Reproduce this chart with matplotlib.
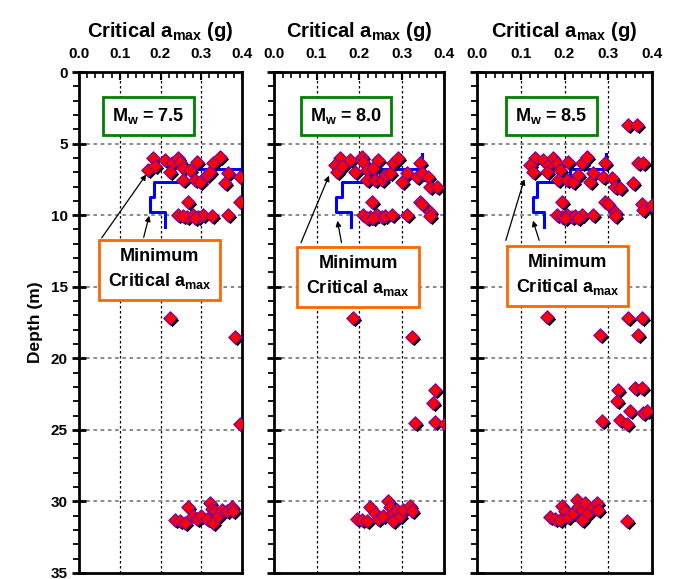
import numpy as np
import matplotlib
matplotlib.use("Agg")
import matplotlib.pyplot as plt
from matplotlib.transforms import offset_copy

plt.rcParams['font.family'] = ['Liberation Sans', 'DejaVu Sans']
plt.rcParams['font.weight'] = 'bold'
plt.rcParams['mathtext.fontset'] = 'custom'
plt.rcParams['mathtext.rm'] = 'Liberation Sans:bold'
plt.rcParams['mathtext.bf'] = 'Liberation Sans:bold'
plt.rcParams['mathtext.default'] = 'bf'

# ---- data: critical amax (g) vs depth (m) ----
a75 = [0.182, 0.169, 0.187, 0.211, 0.228, 0.243, 0.248, 0.223, 0.255, 0.272, 0.290,
       0.255, 0.285, 0.297, 0.314, 0.321, 0.329, 0.346, 0.358, 0.366, 0.395,
       0.267, 0.395,
       0.243, 0.265, 0.280, 0.292, 0.304, 0.326, 0.366, 0.255, 0.285,
       0.223, 0.383, 0.395,
       0.236, 0.248, 0.260, 0.267, 0.280, 0.290, 0.300, 0.314, 0.321, 0.326,
       0.329, 0.334, 0.341, 0.350, 0.363, 0.375, 0.378]
d75 = [6.0, 6.85, 6.6, 6.15, 6.36, 6.0, 6.3, 7.0, 6.7, 6.85, 6.3,
       7.55, 7.55, 7.7, 7.2, 7.0, 6.36, 5.94, 7.76, 7.06, 7.34,
       9.08, 9.08,
       10.0, 10.1, 10.0, 10.15, 10.0, 10.05, 10.0, 10.05, 10.2,
       17.2, 18.5, 24.6,
       31.3, 31.4, 31.5, 30.4, 31.0, 31.2, 31.0, 31.2, 30.1, 30.5,
       31.5, 30.7, 31.0, 30.6, 30.7, 30.4, 30.7]

a80 = [0.155, 0.144, 0.148, 0.160, 0.179, 0.190, 0.207, 0.209, 0.219, 0.233, 0.245,
       0.219, 0.238, 0.254, 0.261, 0.273, 0.280, 0.292, 0.301, 0.313, 0.336,
       0.344, 0.348, 0.367, 0.383, 0.362,
       0.231, 0.344, 0.348, 0.367,
       0.209, 0.226, 0.242, 0.254, 0.261, 0.278, 0.313, 0.367, 0.218, 0.234,
       0.186, 0.325, 0.379, 0.374, 0.332, 0.379, 0.402,
       0.195, 0.207, 0.219, 0.226, 0.238, 0.245, 0.256, 0.268, 0.273, 0.280,
       0.280, 0.289, 0.296, 0.304, 0.320, 0.325]
d80 = [6.0, 6.5, 7.0, 6.6, 6.15, 7.0, 5.94, 6.3, 6.85, 6.7, 6.15,
       7.55, 7.55, 7.55, 7.2, 7.06, 6.36, 6.0, 7.7, 7.06, 7.34,
       6.36, 7.06, 8.0, 8.0, 7.34,
       9.08, 9.08, 9.2, 9.8,
       10.0, 10.1, 10.0, 10.15, 10.05, 10.0, 10.0, 10.05, 10.2, 10.2,
       17.2, 18.5, 22.2, 23.1, 24.5, 24.45, 24.6,
       31.2, 31.3, 31.4, 30.4, 30.8, 31.2, 31.0, 30.0, 30.4, 30.8,
       31.4, 30.6, 31.0, 30.6, 30.3, 30.7]

a85 = [0.133, 0.121, 0.128, 0.151, 0.162, 0.160, 0.174, 0.183, 0.190, 0.208,
       0.185, 0.206, 0.219, 0.231, 0.240, 0.251, 0.258, 0.265, 0.288, 0.293,
       0.309, 0.315, 0.327, 0.357, 0.368, 0.379,
       0.194, 0.293, 0.300, 0.315, 0.377, 0.400, 0.379,
       0.345, 0.366,
       0.183, 0.194, 0.206, 0.217, 0.224, 0.240, 0.265, 0.315, 0.200, 0.230,
       0.160, 0.345, 0.377, 0.281, 0.368,
       0.322, 0.361, 0.377, 0.320, 0.350, 0.379, 0.389, 0.286, 0.327, 0.343,
       0.167, 0.178, 0.190, 0.194, 0.201, 0.208, 0.219, 0.229, 0.231, 0.240,
       0.240, 0.247, 0.254, 0.265, 0.274, 0.276, 0.343]
d85 = [6.0, 6.5, 7.0, 6.15, 6.5, 7.0, 6.0, 6.36, 6.85, 6.3,
       7.55, 7.55, 7.7, 7.2, 6.36, 5.94, 7.7, 7.06, 7.34, 6.36,
       7.4, 8.0, 8.1, 7.76, 6.36, 6.36,
       9.08, 9.08, 9.2, 9.8, 9.2, 9.3, 9.65,
       3.7, 3.7,
       10.0, 10.1, 10.0, 10.15, 10.05, 10.0, 10.0, 10.05, 10.2, 10.2,
       17.1, 17.2, 17.2, 18.4, 18.4,
       22.2, 22.1, 22.1, 23.0, 23.7, 23.8, 23.7, 24.4, 24.3, 24.6,
       31.1, 31.2, 31.3, 30.3, 30.7, 31.1, 30.8, 29.9, 30.4, 30.6,
       31.3, 30.1, 30.8, 30.4, 30.1, 30.6, 31.4]

# minimum critical amax envelopes (step lines)
env75_a = [0.400, 0.400, 0.280, 0.280, 0.185, 0.185, 0.174, 0.174, 0.212, 0.212]
env75_d = [5.70, 6.75, 6.75, 7.70, 7.70, 8.75, 8.75, 9.80, 9.80, 10.85]
env80_a = [0.348, 0.348, 0.250, 0.250, 0.160, 0.160, 0.146, 0.146, 0.181, 0.181]
env80_d = [5.70, 6.75, 6.75, 7.70, 7.70, 8.75, 8.75, 9.80, 9.80, 10.80]
env85_a = [0.295, 0.295, 0.213, 0.213, 0.137, 0.137, 0.128, 0.128, 0.153, 0.153]
env85_d = [5.70, 6.75, 6.75, 7.70, 7.70, 8.75, 8.75, 9.80, 9.80, 10.80]

magnitudes = ["7.5", "8.0", "8.5"]
# label box centres, arrow tails and tips (data coords)
mw_pos = [(0.17, 3.1), (0.17, 3.1), (0.17, 3.1)]
min_pos = [(0.198, 13.8), (0.198, 14.3), (0.207, 14.2)]
arrow1 = [((0.052, 11.74), (0.169, 7.0)), ((0.061, 12.1), (0.132, 7.06)), ((0.064, 11.95), (0.110, 7.3))]
arrow2 = [((0.157, 11.74), (0.174, 9.85)), ((0.160, 12.1), (0.148, 10.2)), ((0.144, 11.95), (0.126, 10.2))]

panels = [(a75, d75, env75_a, env75_d), (a80, d80, env80_a, env80_d), (a85, d85, env85_a, env85_d)]

fig = plt.figure(figsize=(6.76, 5.79), dpi=100)
lefts = [79 / 676, 274 / 676, 477 / 676]
widths = [163 / 676, 170 / 676, 175 / 676]
bottom = 1 - 573 / 579
height = (573 - 72) / 579

for i, (a, d, ea, ed) in enumerate(panels):
    ax = fig.add_axes([lefts[i], bottom, widths[i], height])
    ax.set_xlim(0, 0.4)
    ax.set_ylim(35, 0)

    ax.plot(ea, ed, color='#0000ff', lw=2.2, zorder=3)
    shadow = offset_copy(ax.transData, fig=fig, x=2, y=-2, units='dots')
    ax.scatter(a, d, marker='D', s=46, color='black', transform=shadow, zorder=4, lw=0)
    ax.scatter(a, d, marker='D', s=46, facecolor='#ff0000', edgecolor='#8000a0', lw=0.9, zorder=5)

    ax.xaxis.tick_top()
    ax.xaxis.set_label_position('top')
    ax.set_xticks(np.arange(0, 0.41, 0.1))
    ax.set_xticks(np.arange(0, 0.41, 0.02), minor=True)
    ax.set_xticklabels(["0.0", "0.1", "0.2", "0.3", "0.4"], fontsize=11, fontweight='bold')
    ax.set_yticks(np.arange(0, 36, 5))
    ax.set_yticks(np.arange(0, 36, 1), minor=True)
    if i == 0:
        labels = [str(v) for v in range(0, 36, 5)]
        ax.set_yticklabels(labels, fontsize=11, fontweight='bold')
        ax.set_ylabel("Depth (m)", fontsize=12.5, fontweight='bold', labelpad=6)
    else:
        ax.set_yticklabels([])
    ax.tick_params(axis='x', which='major', direction='in', length=6, width=1.5, pad=8)
    ax.tick_params(axis='x', which='minor', direction='in', length=4, width=1.2)
    ax.tick_params(axis='y', which='major', direction='inout', length=10, width=2, pad=3)
    ax.tick_params(axis='y', which='minor', direction='out', length=4, width=1.3)
    for s in ax.spines.values():
        s.set_linewidth(2)
    ax.set_xlabel("Critical a$_{max}$ (g)", fontsize=14.5, fontweight='bold', labelpad=7)

    for x in [0.1, 0.2, 0.3]:
        ax.axvline(x, color='black', lw=0.9, ls=(0, (2, 2)), zorder=1)
    for y in [5, 10, 15, 20, 25, 30]:
        ax.axhline(y, color='#808080', lw=1.3, ls=(0, (2, 2)), zorder=1)

    ax.text(*mw_pos[i], "M$_w$ = " + magnitudes[i], ha='center', va='center', fontsize=13,
            fontweight='bold', zorder=6,
            bbox=dict(boxstyle='square,pad=0.5', fc='white', ec='#008000', lw=2))
    ax.text(*min_pos[i], "Minimum\nCritical a$_{max}$", ha='center', va='center', fontsize=13,
            fontweight='bold', zorder=6, linespacing=1.4,
            bbox=dict(boxstyle='square,pad=0.5', fc='white', ec='#ff6600', lw=2))
    for tail, tip in (arrow1[i], arrow2[i]):
        ax.annotate("", xy=tip, xytext=tail, zorder=6,
                    arrowprops=dict(arrowstyle='-|>', color='black', lw=0.9, mutation_scale=8))

fig.savefig("out.png", dpi=100)
